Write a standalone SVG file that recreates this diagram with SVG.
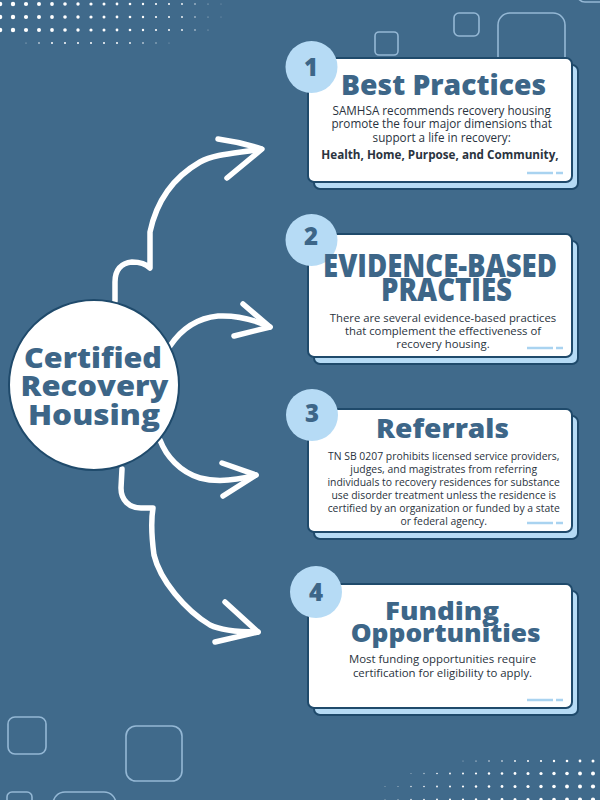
<svg xmlns="http://www.w3.org/2000/svg" width="600" height="800" viewBox="0 0 600 800">
<style>
.sq{fill:none;stroke:#a3c6e2;stroke-width:1.6;opacity:.85}
.dot{fill:#ffffff}
.shadow{fill:#b6dbf5;stroke:#1f4a6b;stroke-width:2}
.card{fill:#ffffff;stroke:#1f4a6b;stroke-width:2}
.num{fill:#b6dbf5}
.numt{font-family:"Open Sans","Liberation Sans",sans-serif;font-weight:800;font-size:24px;fill:#3d6688;text-anchor:middle}
.title{font-family:"Open Sans","Liberation Sans",sans-serif;font-weight:800;fill:#3d6688;text-anchor:middle}
.body{font-family:"Open Sans","Liberation Sans",sans-serif;fill:#2a3340;text-anchor:middle}
.deco{stroke:#a9d3f0;stroke-width:2.5;stroke-linecap:butt}
.arrow{fill:none;stroke:#ffffff;stroke-width:5.5;stroke-linecap:round;stroke-linejoin:round}
.hub{fill:#ffffff;stroke:#1f4a6b;stroke-width:2}
.hubt{font-family:"Open Sans","Liberation Sans",sans-serif;font-weight:800;font-size:29px;fill:#3d6688;text-anchor:middle}
</style>
<rect width="600" height="800" fill="#406a8b"/>
<g id="decor-squares">
<rect class="sq" x="375" y="32" width="23" height="23" rx="4"/>
<rect class="sq" x="454" y="13" width="25" height="23" rx="5"/>
<rect class="sq" x="498" y="13" width="67" height="70" rx="12"/>
<rect class="sq" x="577" y="-30" width="40" height="32" rx="8"/>
<rect class="sq" x="8" y="717" width="38" height="37" rx="7"/>
<rect class="sq" x="126" y="726" width="56" height="55" rx="10"/>
<rect class="sq" x="7" y="792" width="25" height="25" rx="5"/>
<rect class="sq" x="53" y="792" width="63" height="40" rx="12"/>
</g>
<g id="decor-dots-top" class="dot">
<circle cx="0" cy="4" r="2.3"/><circle cx="13" cy="4" r="2.2"/><circle cx="26" cy="4" r="2.1"/><circle cx="39" cy="4" r="2"/><circle cx="52" cy="4" r="1.9"/><circle cx="65" cy="4" r="1.8"/><circle cx="78" cy="4" r="1.7"/><circle cx="91" cy="4" r="1.6"/><circle cx="104" cy="4" r="1.5"/><circle cx="117" cy="4" r="1.4"/><circle cx="130" cy="4" r="1.3"/><circle cx="143" cy="4" r="1.2"/><circle cx="156" cy="4" r="1.1"/><circle cx="169" cy="4" r="1"/><circle cx="182" cy="4" r="0.9"/><circle cx="195" cy="4" r="0.8" opacity=".8"/><circle cx="208" cy="4" r="0.6" opacity=".6"/><circle cx="221" cy="4" r="0.5" opacity=".4"/>
<circle cx="0" cy="17" r="2.3"/><circle cx="13" cy="17" r="2.2"/><circle cx="26" cy="17" r="2.1"/><circle cx="39" cy="17" r="2"/><circle cx="52" cy="17" r="1.9"/><circle cx="65" cy="17" r="1.8"/><circle cx="78" cy="17" r="1.7"/><circle cx="91" cy="17" r="1.6"/><circle cx="104" cy="17" r="1.5"/><circle cx="117" cy="17" r="1.4"/><circle cx="130" cy="17" r="1.3"/><circle cx="143" cy="17" r="1.2"/><circle cx="156" cy="17" r="1.1"/><circle cx="169" cy="17" r="1"/><circle cx="182" cy="17" r="0.9"/><circle cx="195" cy="17" r="0.8" opacity=".8"/><circle cx="208" cy="17" r="0.6" opacity=".6"/><circle cx="221" cy="17" r="0.5" opacity=".4"/>
<circle cx="0" cy="30" r="2.3"/><circle cx="13" cy="30" r="2.2"/><circle cx="26" cy="30" r="2.1"/><circle cx="39" cy="30" r="2"/><circle cx="52" cy="30" r="1.9"/><circle cx="65" cy="30" r="1.8"/><circle cx="78" cy="30" r="1.7"/><circle cx="91" cy="30" r="1.6"/><circle cx="104" cy="30" r="1.5"/><circle cx="117" cy="30" r="1.4"/><circle cx="130" cy="30" r="1.3"/><circle cx="143" cy="30" r="1.2"/><circle cx="156" cy="30" r="1.1"/><circle cx="169" cy="30" r="1"/><circle cx="182" cy="30" r="0.9"/><circle cx="195" cy="30" r="0.8" opacity=".8"/><circle cx="208" cy="30" r="0.6" opacity=".5"/>
<circle cx="26" cy="43" r="0.6" opacity=".6"/><circle cx="39" cy="43" r="0.8"/><circle cx="52" cy="43" r="1"/><circle cx="65" cy="43" r="1"/><circle cx="78" cy="43" r="1"/><circle cx="91" cy="43" r="1"/><circle cx="104" cy="43" r="1"/><circle cx="117" cy="43" r="1"/><circle cx="130" cy="43" r="0.9"/><circle cx="143" cy="43" r="0.8"/><circle cx="156" cy="43" r="0.7" opacity=".7"/><circle cx="169" cy="43" r="0.6" opacity=".4"/>
</g>
<g id="decor-dots-bottom" class="dot">
<circle cx="463" cy="761" r="0.5" opacity=".6"/><circle cx="476" cy="761" r="0.6"/><circle cx="489" cy="761" r="0.7"/><circle cx="502" cy="761" r="0.8"/><circle cx="515" cy="761" r="0.9"/><circle cx="528" cy="761" r="1"/><circle cx="541" cy="761" r="1.1"/><circle cx="554" cy="761" r="1.2"/><circle cx="567" cy="761" r="1.3"/><circle cx="580" cy="761" r="1.4"/><circle cx="593" cy="761" r="1.5"/>
<circle cx="411" cy="773.5" r="0.6" opacity=".5"/><circle cx="424" cy="773.5" r="0.7" opacity=".7"/><circle cx="437" cy="773.5" r="0.8"/><circle cx="450" cy="773.5" r="0.9"/><circle cx="463" cy="773.5" r="1"/><circle cx="476" cy="773.5" r="1.1"/><circle cx="489" cy="773.5" r="1.2"/><circle cx="502" cy="773.5" r="1.3"/><circle cx="515" cy="773.5" r="1.4"/><circle cx="528" cy="773.5" r="1.5"/><circle cx="541" cy="773.5" r="1.6"/><circle cx="554" cy="773.5" r="1.7"/><circle cx="567" cy="773.5" r="1.8"/><circle cx="580" cy="773.5" r="1.9"/><circle cx="593" cy="773.5" r="2"/>
<circle cx="385" cy="786.5" r="0.5" opacity=".5"/><circle cx="398" cy="786.5" r="0.6" opacity=".6"/><circle cx="411" cy="786.5" r="0.7"/><circle cx="424" cy="786.5" r="0.8"/><circle cx="437" cy="786.5" r="0.9"/><circle cx="450" cy="786.5" r="1"/><circle cx="463" cy="786.5" r="1.1"/><circle cx="476" cy="786.5" r="1.2"/><circle cx="489" cy="786.5" r="1.3"/><circle cx="502" cy="786.5" r="1.4"/><circle cx="515" cy="786.5" r="1.5"/><circle cx="528" cy="786.5" r="1.6"/><circle cx="541" cy="786.5" r="1.7"/><circle cx="554" cy="786.5" r="1.8"/><circle cx="567" cy="786.5" r="1.9"/><circle cx="580" cy="786.5" r="2"/><circle cx="593" cy="786.5" r="2.1"/>
<circle cx="385" cy="799.5" r="0.5" opacity=".5"/><circle cx="398" cy="799.5" r="0.6" opacity=".6"/><circle cx="411" cy="799.5" r="0.7"/><circle cx="424" cy="799.5" r="0.8"/><circle cx="437" cy="799.5" r="0.9"/><circle cx="450" cy="799.5" r="1"/><circle cx="463" cy="799.5" r="1.1"/><circle cx="476" cy="799.5" r="1.2"/><circle cx="489" cy="799.5" r="1.3"/><circle cx="502" cy="799.5" r="1.4"/><circle cx="515" cy="799.5" r="1.5"/><circle cx="528" cy="799.5" r="1.6"/><circle cx="541" cy="799.5" r="1.7"/><circle cx="554" cy="799.5" r="1.8"/><circle cx="567" cy="799.5" r="1.9"/><circle cx="580" cy="799.5" r="2"/><circle cx="593" cy="799.5" r="2.1"/>
</g>
<g id="connectors">
<path class="arrow" d="M115,301 L115,282 C115,270 121,263 132,262 C141,262 147,265 150,268 L150,232 Q160,185 200,162 C215,153.4 240,153 261,149"/>
<path class="arrow" d="M218,139 Q240,142 262,149 L227,178"/>
<path class="arrow" d="M170,346 C182,328 198,318 218,316 C238,315 255,320 270,327"/>
<path class="arrow" d="M243,304 L270,327 L234,336"/>
<path class="arrow" d="M160,440 C166,456 180,472 200,478 C218,483 238,480 256,475"/>
<path class="arrow" d="M222,463 L256,475 L223,496"/>
<path class="arrow" d="M122,469 L121,488 C121,500 129,508 141,508 L153,508 C151,520 152,540 154,555 C160,580 185,610 210,625 C222,631 240,632 258,632"/>
<path class="arrow" d="M225,602 L258,632 L215,642"/>
</g>
<g id="hub">
<circle class="hub" cx="94" cy="385" r="85"/>
<text class="hubt" x="93" y="368" textLength="138" lengthAdjust="spacingAndGlyphs">Certified</text>
<text class="hubt" x="94.5" y="396" textLength="148" lengthAdjust="spacingAndGlyphs">Recovery</text>
<text class="hubt" x="94" y="425" textLength="132" lengthAdjust="spacingAndGlyphs">Housing</text>
</g>
<g id="card1">
<rect class="shadow" x="314" y="65" width="264" height="124" rx="6"/>
<rect class="card" x="308" y="58" width="264" height="124" rx="6"/>
<line class="deco" x1="527" y1="173" x2="553" y2="173"/><line class="deco" x1="556" y1="173" x2="563" y2="173"/>
<circle class="num" cx="311.5" cy="67" r="26"/>
<text class="numt" x="311" y="76">1</text>
<text class="title" x="443.5" y="95" font-size="29" textLength="205" lengthAdjust="spacingAndGlyphs">Best Practices</text>
<text class="body" font-size="11.7"><tspan x="441.7" y="115">SAMHSA recommends recovery housing</tspan><tspan x="441.7" y="128.3">promote the four major dimensions that</tspan><tspan x="441.7" y="141.7">support a life in recovery:</tspan><tspan x="440" y="159" font-weight="bold">Health, Home, Purpose, and Community,</tspan></text>
</g>
<g id="card2">
<rect class="shadow" x="314" y="241" width="264" height="123" rx="6"/>
<rect class="card" x="308" y="234" width="264" height="123" rx="6"/>
<line class="deco" x1="527" y1="348" x2="553" y2="348"/><line class="deco" x1="556" y1="348" x2="563" y2="348"/>
<circle class="num" cx="311.5" cy="240" r="26"/>
<text class="numt" x="311" y="244.5">2</text>
<text class="title" x="440" y="276.7" font-size="32" textLength="234" lengthAdjust="spacingAndGlyphs">EVIDENCE-BASED</text>
<text class="title" x="446.5" y="300.7" font-size="32" textLength="131" lengthAdjust="spacingAndGlyphs">PRACTIES</text>
<text class="body" font-size="11.3"><tspan x="443" y="321.7">There are several evidence-based practices</tspan><tspan x="443" y="335">that complement the effectiveness of</tspan><tspan x="443" y="347.7">recovery housing.</tspan></text>
</g>
<g id="card3">
<rect class="shadow" x="314" y="416" width="264" height="123" rx="6"/>
<rect class="card" x="308" y="409" width="264" height="123" rx="6"/>
<line class="deco" x1="527" y1="523" x2="553" y2="523"/><line class="deco" x1="556" y1="523" x2="563" y2="523"/>
<circle class="num" cx="312" cy="415" r="26"/>
<text class="numt" x="312" y="422">3</text>
<text class="title" x="442.5" y="438.3" font-size="27" textLength="133" lengthAdjust="spacingAndGlyphs">Referrals</text>
<text class="body" font-size="10.4"><tspan x="443.7" y="460">TN SB 0207 prohibits licensed service providers,</tspan><tspan x="443.7" y="473.3">judges, and magistrates from referring</tspan><tspan x="443.7" y="486">individuals to recovery residences for substance</tspan><tspan x="443.7" y="499">use disorder treatment unless the residence is</tspan><tspan x="443.7" y="512.3">certified by an organization or funded by a state</tspan><tspan x="443.7" y="525">or federal agency.</tspan></text>
</g>
<g id="card4">
<rect class="shadow" x="314" y="591" width="264" height="124" rx="6"/>
<rect class="card" x="308" y="584" width="264" height="124" rx="6"/>
<line class="deco" x1="527" y1="700" x2="553" y2="700"/><line class="deco" x1="556" y1="700" x2="563" y2="700"/>
<circle class="num" cx="316" cy="592" r="26"/>
<text class="numt" x="316" y="600.5">4</text>
<text class="title" x="442" y="620" font-size="25" textLength="114" lengthAdjust="spacingAndGlyphs">Funding</text>
<text class="title" x="445.7" y="641.7" font-size="25" textLength="190" lengthAdjust="spacingAndGlyphs">Opportunities</text>
<text class="body" font-size="11.4"><tspan x="442.5" y="663">Most funding opportunities require</tspan><tspan x="442.5" y="676.7">certification for eligibility to apply.</tspan></text>
</g>
</svg>
